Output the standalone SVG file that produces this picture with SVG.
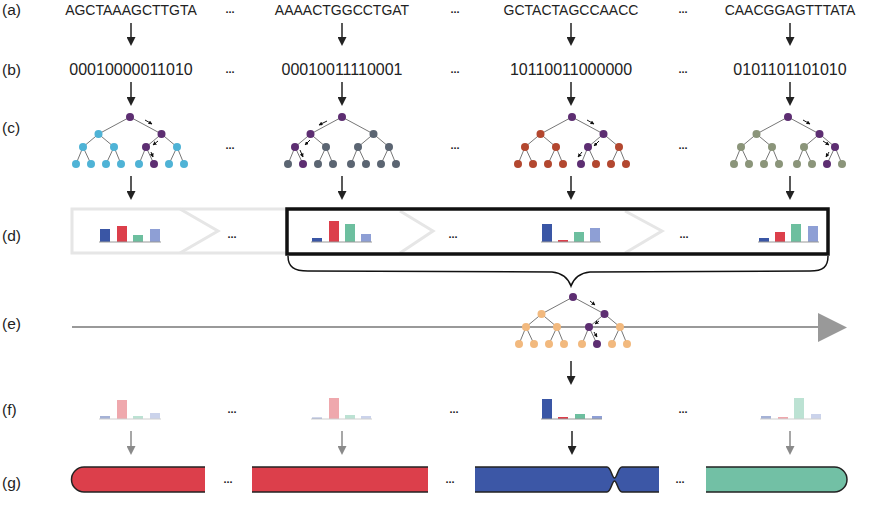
<svg xmlns="http://www.w3.org/2000/svg" xmlns:xlink="http://www.w3.org/1999/xlink" width="877" height="514" viewBox="0 0 877 514">
<style>
text{font-family:"Liberation Sans",Arial,sans-serif;fill:#222}
.lab{font-size:15.5px}
.seq{font-size:14px;text-anchor:middle}
.bin{font-size:16px;text-anchor:middle}
.dots{font-size:11px;font-weight:bold;text-anchor:middle}
.edge{stroke:#777;stroke-width:1;fill:none}
.pa{stroke:#111;stroke-width:1;fill:none;marker-end:url(#sh)}
.pu{fill:#5d2e72}
.cy{fill:#4fb3d6}
.sl{fill:#5b6572}
.rb{fill:#b3472f}
.ol{fill:#8b957a}
.pe{fill:#f2b97e}
.bl{fill:#3a56a5}
.rd{fill:#dc3f4b}
.gr{fill:#6dbf9f}
.lb{fill:#8e9fd5}
.base{stroke:#999;stroke-width:1}
.arr{stroke:#222;stroke-width:1.5;marker-end:url(#ah)}
.arrg{stroke:#8a8a8a;stroke-width:1.5;marker-end:url(#ahg)}
.chr{stroke:#222;stroke-width:1.5;fill:none}
.fade{opacity:0.45}
</style>
<defs>
<marker id="ah" markerUnits="userSpaceOnUse" markerWidth="9" markerHeight="9" refX="7" refY="4.5" orient="auto"><path d="M0,0 L9,4.5 L0,9 Z" fill="#222"/></marker>
<marker id="ahg" markerUnits="userSpaceOnUse" markerWidth="9" markerHeight="9" refX="7" refY="4.5" orient="auto"><path d="M0,0 L9,4.5 L0,9 Z" fill="#8a8a8a"/></marker>
<marker id="sh" markerUnits="userSpaceOnUse" markerWidth="4" markerHeight="4" refX="3.5" refY="2" orient="auto"><path d="M0,0 L4,2 L0,4 Z" fill="#111"/></marker>
<path id="te" class="edge" d="M0,0 L-31.5,17 M0,0 L31.5,17 M-31.5,17 L-47,30 M-31.5,17 L-16,30 M31.5,17 L16,30 M31.5,17 L47,30 M-47,30 L-54,47 M-47,30 L-39,47 M-16,30 L-24,47 M-16,30 L-9,47 M16,30 L9,47 M16,30 L24,47 M47,30 L39,47 M47,30 L54,47"/>
</defs>

<!-- row labels -->
<g id="labels">
<text class="lab" x="2" y="15">(a)</text>
<text class="lab" x="2" y="75">(b)</text>
<text class="lab" x="2" y="133">(c)</text>
<text class="lab" x="2" y="241">(d)</text>
<text class="lab" x="2" y="329">(e)</text>
<text class="lab" x="2" y="415">(f)</text>
<text class="lab" x="2" y="488">(g)</text>
</g>

<!-- row a -->
<g id="seq1"><text class="seq" x="131" y="15">AGCTAAAGCTTGTA</text></g>
<g id="seq2"><text class="seq" x="342" y="15">AAAACTGGCCTGAT</text></g>
<g id="seq3"><text class="seq" x="571" y="15">GCTACTAGCCAACC</text></g>
<g id="seq4"><text class="seq" x="790" y="15">CAACGGAGTTTATA</text></g>

<!-- row b -->
<g id="bin1"><text class="bin" x="131" y="75">00010000011010</text></g>
<g id="bin2"><text class="bin" x="342" y="75">00010011110001</text></g>
<g id="bin3"><text class="bin" x="571" y="75">10110011000000</text></g>
<g id="bin4"><text class="bin" x="790" y="75">0101101101010</text></g>

<!-- dots -->
<g id="ellipses">
<text class="dots" x="230" y="13">...</text><text class="dots" x="455" y="13">...</text><text class="dots" x="683" y="13">...</text>
<text class="dots" x="230" y="73">...</text><text class="dots" x="455" y="73">...</text><text class="dots" x="683" y="73">...</text>
<text class="dots" x="230" y="149">...</text><text class="dots" x="455" y="149">...</text><text class="dots" x="683" y="149">...</text>
<text class="dots" x="232" y="238">...</text><text class="dots" x="453" y="238">...</text><text class="dots" x="684" y="238">...</text>
<text class="dots" x="232" y="413">...</text><text class="dots" x="454" y="413">...</text><text class="dots" x="683" y="413">...</text>
<text class="dots" x="228" y="483">...</text><text class="dots" x="450" y="483">...</text><text class="dots" x="680" y="483">...</text>
</g>

<!-- (d) background chevrons and box -->
<g id="d-panel">
<path d="M287,209 H72 V253 H287" fill="none" stroke="#e6e6e6" stroke-width="3"/>
<path d="M180,209 L218,231 L180,253 M400,211 L433,231 L400,253 M625,211 L662,231 L625,253" fill="none" stroke="#e6e6e6" stroke-width="3"/>
<rect x="287" y="209" width="541" height="45" fill="none" stroke="#111" stroke-width="3.5"/>
<path d="M288,256 C288,267 294,271 308,271 L552,272 C562,273 568,278 571,286 C574,278 580,273 590,272 L810,271 C823,271 828,267 828,256" fill="none" stroke="#111" stroke-width="1.5"/>
</g>

<!-- (e) timeline -->
<g id="timeline">
<line x1="72" y1="327" x2="819" y2="327" stroke="#999" stroke-width="2"/>
<path d="M818,313 L847,327.5 L818,342 Z" fill="#999"/>
</g>

<!-- trees -->
<g id="tree1" transform="translate(130,117)">
<use xlink:href="#te" href="#te"/>
<g class="cy"><circle cx="-31.5" cy="17" r="4"/><circle cx="-47" cy="30" r="4"/><circle cx="-16" cy="30" r="4"/><circle cx="47" cy="30" r="4"/>
<circle cx="-54" cy="47" r="4"/><circle cx="-39" cy="47" r="4"/><circle cx="-24" cy="47" r="4"/><circle cx="-9" cy="47" r="4"/><circle cx="9" cy="47" r="4"/><circle cx="39" cy="47" r="4"/><circle cx="54" cy="47" r="4"/></g>
<g class="pu"><circle cx="0" cy="0" r="4"/><circle cx="31.5" cy="17" r="4"/><circle cx="16" cy="30" r="4"/><circle cx="24" cy="47" r="4"/></g>
<path class="pa" d="M15,3 L22,7"/><path class="pa" d="M28,24 L23,28"/><path class="pa" d="M21,35 L23,40"/>
</g>
<g id="tree2" transform="translate(342,117)">
<use xlink:href="#te" href="#te"/>
<g class="sl"><circle cx="31.5" cy="17" r="4"/><circle cx="-16" cy="30" r="4"/><circle cx="16" cy="30" r="4"/><circle cx="47" cy="30" r="4"/>
<circle cx="-54" cy="47" r="4"/><circle cx="-24" cy="47" r="4"/><circle cx="-9" cy="47" r="4"/><circle cx="9" cy="47" r="4"/><circle cx="24" cy="47" r="4"/><circle cx="39" cy="47" r="4"/><circle cx="54" cy="47" r="4"/></g>
<g class="pu"><circle cx="0" cy="0" r="4"/><circle cx="-31.5" cy="17" r="4"/><circle cx="-47" cy="30" r="4"/><circle cx="-39" cy="47" r="4"/></g>
<path class="pa" d="M-15,4 L-23,8"/><path class="pa" d="M-32,23 L-37,28"/><path class="pa" d="M-42,33 L-39,40"/>
</g>
<g id="tree3" transform="translate(572,117)">
<use xlink:href="#te" href="#te"/>
<g class="rb"><circle cx="-31.5" cy="17" r="4"/><circle cx="-47" cy="30" r="4"/><circle cx="-16" cy="30" r="4"/><circle cx="47" cy="30" r="4"/>
<circle cx="-54" cy="47" r="4"/><circle cx="-39" cy="47" r="4"/><circle cx="-24" cy="47" r="4"/><circle cx="-9" cy="47" r="4"/><circle cx="24" cy="47" r="4"/><circle cx="39" cy="47" r="4"/><circle cx="54" cy="47" r="4"/></g>
<g class="pu"><circle cx="0" cy="0" r="4"/><circle cx="31.5" cy="17" r="4"/><circle cx="16" cy="30" r="4"/><circle cx="9" cy="47" r="4"/></g>
<path class="pa" d="M15,3 L22,7"/><path class="pa" d="M27,24 L22,29"/><path class="pa" d="M10,35 L6,40"/>
</g>
<g id="tree4" transform="translate(788,117)">
<use xlink:href="#te" href="#te"/>
<g class="ol"><circle cx="-31.5" cy="17" r="4"/><circle cx="-47" cy="30" r="4"/><circle cx="-16" cy="30" r="4"/><circle cx="16" cy="30" r="4"/>
<circle cx="-54" cy="47" r="4"/><circle cx="-39" cy="47" r="4"/><circle cx="-24" cy="47" r="4"/><circle cx="-9" cy="47" r="4"/><circle cx="9" cy="47" r="4"/><circle cx="24" cy="47" r="4"/><circle cx="54" cy="47" r="4"/></g>
<g class="pu"><circle cx="0" cy="0" r="4"/><circle cx="31.5" cy="17" r="4"/><circle cx="47" cy="30" r="4"/><circle cx="39" cy="47" r="4"/></g>
<path class="pa" d="M15,3 L22,7"/><path class="pa" d="M35,24 L41,28"/><path class="pa" d="M41,35 L38,40"/>
</g>
<g id="tree5" transform="translate(573,297)">
<use xlink:href="#te" href="#te"/>
<g class="pe"><circle cx="-31.5" cy="17" r="4"/><circle cx="-47" cy="30" r="4"/><circle cx="-16" cy="30" r="4"/><circle cx="47" cy="30" r="4"/>
<circle cx="-54" cy="47" r="4"/><circle cx="-39" cy="47" r="4"/><circle cx="-24" cy="47" r="4"/><circle cx="-9" cy="47" r="4"/><circle cx="9" cy="47" r="4"/><circle cx="39" cy="47" r="4"/><circle cx="54" cy="47" r="4"/></g>
<g class="pu"><circle cx="0" cy="0" r="4"/><circle cx="31.5" cy="17" r="4"/><circle cx="16" cy="30" r="4"/><circle cx="24" cy="47" r="4"/></g>
<path class="pa" d="M17,4 L22,8"/><path class="pa" d="M26,24 L22,27"/><path class="pa" d="M21,35 L24,40"/>
</g>

<!-- (d) bar charts -->
<g id="hist-d1"><rect class="bl" x="100" y="229" width="10" height="13"/><rect class="rd" x="117" y="226" width="10" height="16"/><rect class="gr" x="133" y="235" width="10" height="7"/><rect class="lb" x="150" y="229" width="10" height="13"/><line class="base" x1="99" y1="242" x2="161" y2="242"/></g>
<g id="hist-d2"><rect class="bl" x="312" y="238" width="10" height="4"/><rect class="rd" x="329" y="221" width="10" height="21"/><rect class="gr" x="345" y="224" width="10" height="18"/><rect class="lb" x="361" y="234" width="10" height="8"/><line class="base" x1="311" y1="242" x2="372" y2="242"/></g>
<g id="hist-d3"><rect class="bl" x="542" y="224" width="10" height="18"/><rect class="rd" x="558" y="240" width="10" height="2"/><rect class="gr" x="574" y="232" width="10" height="10"/><rect class="lb" x="590" y="228" width="10" height="14"/><line class="base" x1="541" y1="242" x2="601" y2="242"/></g>
<g id="hist-d4"><rect class="bl" x="759" y="238" width="10" height="4"/><rect class="rd" x="775" y="232" width="10" height="10"/><rect class="gr" x="791" y="224" width="10" height="18"/><rect class="lb" x="808" y="226" width="10" height="16"/><line class="base" x1="758" y1="242" x2="819" y2="242"/></g>

<!-- (f) bar charts -->
<g id="hist-f1" class="fade"><rect class="bl" x="100" y="416" width="10" height="3"/><rect class="rd" x="117" y="400" width="10" height="19"/><rect class="gr" x="133" y="416" width="10" height="3"/><rect class="lb" x="150" y="413" width="10" height="6"/><line class="base" x1="99" y1="419" x2="161" y2="419"/></g>
<g id="hist-f2" class="fade"><rect class="bl" x="312" y="417.5" width="10" height="1.5"/><rect class="rd" x="329" y="398" width="10" height="21"/><rect class="gr" x="345" y="415" width="10" height="4"/><rect class="lb" x="361" y="416" width="10" height="3"/><line class="base" x1="311" y1="419" x2="372" y2="419"/></g>
<g id="hist-f3"><rect class="bl" x="542" y="399" width="10" height="20"/><rect class="rd" x="558" y="417" width="10" height="2"/><rect class="gr" x="575" y="414" width="10" height="5"/><rect class="lb" x="592" y="416" width="10" height="3"/><line class="base" x1="541" y1="419" x2="602" y2="419"/></g>
<g id="hist-f4" class="fade"><rect class="bl" x="761" y="416" width="10" height="3"/><rect class="rd" x="778" y="417" width="10" height="2"/><rect class="gr" x="794" y="398" width="10" height="21"/><rect class="lb" x="811" y="414" width="10" height="5"/><line class="base" x1="760" y1="419" x2="821" y2="419"/></g>

<!-- (g) chromosomes -->
<g id="chrom1"><path d="M205,467 H84 A12.5,12.5 0 0 0 84,492 H205 Z" fill="#dc3f4b"/><path class="chr" d="M205,467 H84 A12.5,12.5 0 0 0 84,492 H205"/></g>
<g id="chrom2"><rect x="252" y="467" width="176" height="25" fill="#dc3f4b"/><path class="chr" d="M252,467 H428 M252,492 H428"/></g>
<g id="chrom3"><path d="M475,467 H607 C611,467 612,478 614.5,478 C617,478 618,467 622,467 H659 V492 H622 C618,492 617,481 614.5,481 C612,481 611,492 607,492 H475 Z" fill="#3c57a6"/><path class="chr" d="M475,467 H607 C611,467 612,478 614.5,478 C617,478 618,467 622,467 H659 M475,492 H607 C611,492 612,481 614.5,481 C617,481 618,492 622,492 H659"/></g>
<g id="chrom4"><path d="M706,467 H834.5 A12.5,12.5 0 0 1 834.5,492 H706 Z" fill="#72c0a5"/><path class="chr" d="M706,467 H834.5 A12.5,12.5 0 0 1 834.5,492 H706"/></g>

<!-- connectors -->
<g id="connectors">
<line class="arr" x1="131" y1="23" x2="131" y2="44"/>
<line class="arr" x1="342" y1="23" x2="342" y2="44"/>
<line class="arr" x1="571" y1="23" x2="571" y2="44"/>
<line class="arr" x1="790" y1="23" x2="790" y2="44"/>
<line class="arr" x1="131" y1="82" x2="131" y2="104"/>
<line class="arr" x1="342" y1="82" x2="342" y2="104"/>
<line class="arr" x1="571" y1="82" x2="571" y2="104"/>
<line class="arr" x1="790" y1="82" x2="790" y2="104"/>
<line class="arr" x1="131" y1="176" x2="131" y2="198"/>
<line class="arr" x1="342" y1="176" x2="342" y2="198"/>
<line class="arr" x1="571" y1="176" x2="571" y2="198"/>
<line class="arr" x1="790" y1="176" x2="790" y2="198"/>
<line class="arr" x1="571" y1="361" x2="571" y2="383"/>
<line class="arrg" x1="131" y1="431" x2="131" y2="453"/>
<line class="arrg" x1="342" y1="431" x2="342" y2="453"/>
<line class="arr" x1="572" y1="431" x2="572" y2="453"/>
<line class="arrg" x1="790" y1="431" x2="790" y2="453"/>
</g>
</svg>
